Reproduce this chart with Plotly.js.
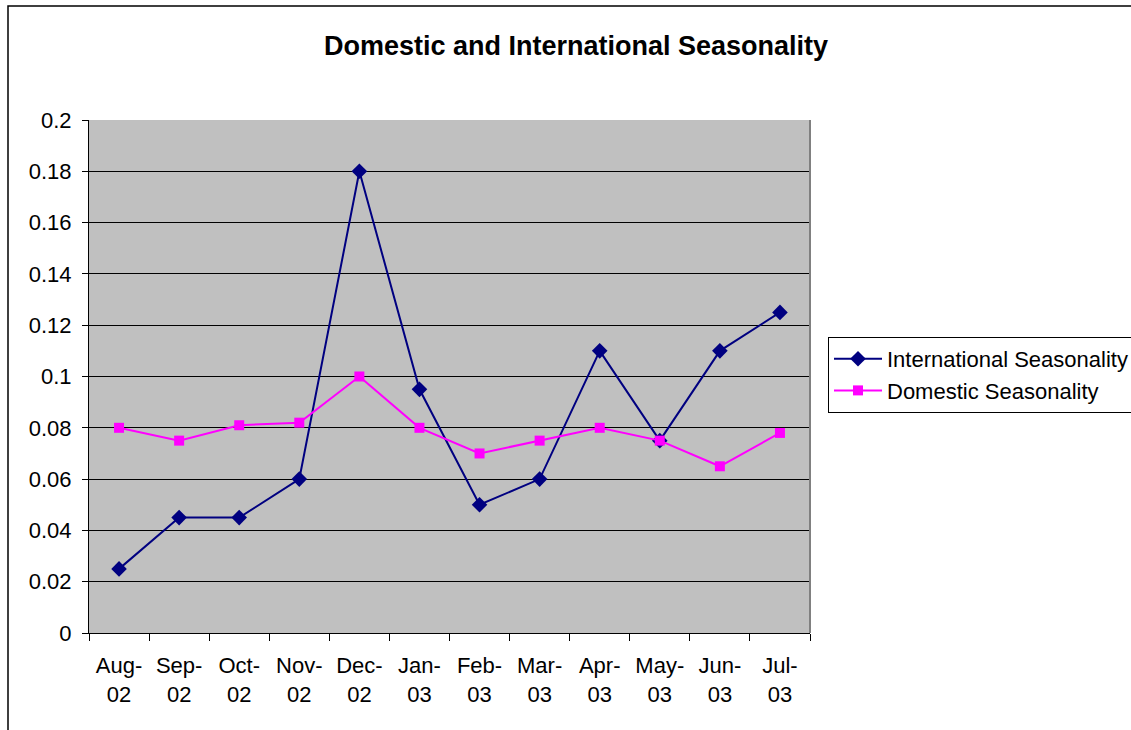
<!DOCTYPE html>
<html>
<head>
<meta charset="utf-8">
<script src="https://cdn.plot.ly/plotly-3.0.1.min.js"></script>
<style>
  html, body { margin: 0; padding: 0; background: #ffffff; }
  #chart { width: 1131px; height: 730px; }
</style>
</head>
<body>
<div id="chart"></div>
<script>
// Monthly seasonality factors, Aug 2002 – Jul 2003
const months = ["Aug-<br>02", "Sep-<br>02", "Oct-<br>02", "Nov-<br>02", "Dec-<br>02", "Jan-<br>03",
                "Feb-<br>03", "Mar-<br>03", "Apr-<br>03", "May-<br>03", "Jun-<br>03", "Jul-<br>03"];
const international = [0.025, 0.045, 0.045, 0.06, 0.18, 0.095, 0.05, 0.06, 0.11, 0.075, 0.11, 0.125];
const domestic = [0.08, 0.075, 0.081, 0.082, 0.10, 0.08, 0.07, 0.075, 0.08, 0.075, 0.065, 0.078];
const yTicks = [0, 0.02, 0.04, 0.06, 0.08, 0.1, 0.12, 0.14, 0.16, 0.18, 0.2];

const FONT = "Liberation Sans, Arial, sans-serif";

const traces = [
  {
    name: "International Seasonality",
    x: months, y: international,
    type: "scatter", mode: "lines+markers",
    line: { color: "#000080", width: 2 },
    marker: { symbol: "diamond", size: 12, color: "#000080" }
  },
  {
    name: "Domestic Seasonality",
    x: months, y: domestic,
    type: "scatter", mode: "lines+markers",
    line: { color: "#FF00FF", width: 2 },
    marker: { symbol: "square", size: 10, color: "#FF00FF" }
  }
];

const layout = {
  width: 1131, height: 730,
  margin: { l: 89, r: 321, t: 120, b: 97, autoexpand: false },
  paper_bgcolor: "#ffffff",
  plot_bgcolor: "#C0C0C0",
  font: { family: FONT, color: "#000000", size: 22 },
  title: {
    text: "<b>Domestic and International Seasonality</b>",
    font: { family: FONT, size: 27, color: "#000000" },
    x: 576 / 1131, xref: "container", xanchor: "center",
    y: 1 - 46 / 730, yref: "container", yanchor: "middle"
  },
  xaxis: {
    type: "category",
    range: [-0.5, 11.5],
    ticks: "outside", ticklen: 7, tickcolor: "#000000", tickwidth: 1,
    tickson: "boundaries",
    ticklabelstandoff: 13,
    showgrid: false, zeroline: false,
    showline: true, linecolor: "#000000", linewidth: 1,
    tickfont: { family: FONT, size: 22 },
    automargin: false,
    fixedrange: true
  },
  yaxis: {
    range: [0, 0.2],
    tickmode: "array", tickvals: yTicks, ticktext: yTicks.map(String),
    ticks: "outside", ticklen: 6, tickcolor: "#000000", tickwidth: 1,
    ticklabelstandoff: 6,
    showgrid: true, gridcolor: "#000000", gridwidth: 1,
    zeroline: false,
    showline: true, linecolor: "#000000", linewidth: 1,
    tickfont: { family: FONT, size: 22 },
    automargin: false,
    fixedrange: true
  },
  legend: {
    x: (828 - 89) / 721, xanchor: "left",
    y: (633 - 337) / 513, yanchor: "top",
    bgcolor: "#ffffff", bordercolor: "#000000", borderwidth: 1,
    font: { family: FONT, size: 22, color: "#000000" },
    itemwidth: 48
  },
  shapes: [
    // outer chart frame
    { type: "rect", xref: "paper", yref: "paper",
      x0: (8 - 89) / 721, x1: 1.6, y0: -0.5, y1: (633 - 6) / 513,
      line: { color: "#000000", width: 1.5 }, fillcolor: "rgba(0,0,0,0)", layer: "below" },
    // right edge of plot area
    { type: "line", xref: "paper", yref: "paper", x0: 1, x1: 1, y0: 0, y1: 1,
      line: { color: "#808080", width: 2 } }
  ],
  showlegend: true
};

Plotly.newPlot("chart", traces, layout, { displayModeBar: false, staticPlot: true });
</script>
</body>
</html>
